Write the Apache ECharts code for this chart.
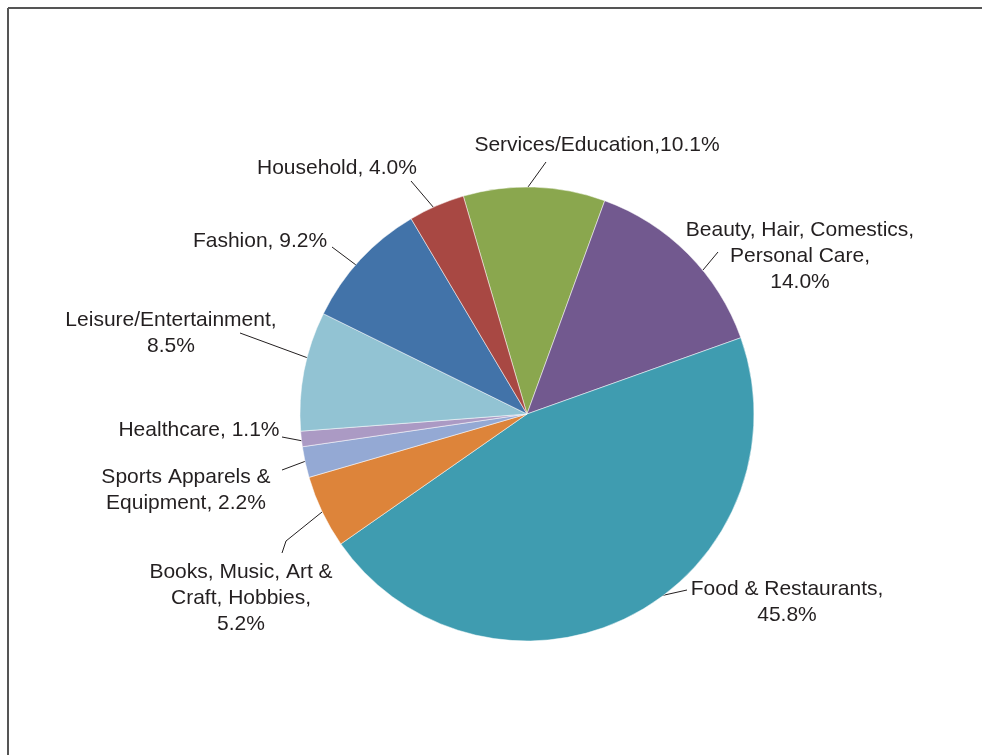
<!DOCTYPE html>
<html>
<head>
<meta charset="utf-8">
<script src="https://cdn.jsdelivr.net/npm/echarts@6/dist/echarts.min.js"></script>
<style>
  html, body { margin: 0; padding: 0; background: #fff; }
  #chart { width: 982px; height: 755px; }
</style>
</head>
<body>
<div id="chart"></div>
<script>
// Spending share by category (%), clockwise from the top
const categories = [
  'Services/Education',
  'Beauty, Hair, Comestics,\nPersonal Care',
  'Food & Restaurants',
  'Books, Music, Art &\nCraft, Hobbies',
  'Sports Apparels &\nEquipment',
  'Healthcare',
  'Leisure/Entertainment',
  'Fashion',
  'Household'
];
const shares = [10.1, 14.0, 45.8, 5.2, 2.2, 1.1, 8.5, 9.2, 4.0];
// text placed between the name and the percentage
const joiners = [',', ',\n', ',\n', ',\n', ', ', ', ', ',\n', ', ', ', '];

const colors = ['#8aa74e', '#72598f', '#3f9cb0', '#dd843a', '#94a9d4', '#ab9ac4', '#92c3d3', '#4273a9', '#a84843'];

// label centres and guide-line paths (pie edge -> label)
const labelPlacement = [
  { x: 597, y: 145, line: [[528, 187], [546, 162]] },
  { x: 800, y: 256, line: [[703, 270], [718, 252]] },
  { x: 787, y: 602, line: [[660, 596], [687, 590]] },
  { x: 241, y: 598, line: [[322, 512], [286, 541], [282, 553]] },
  { x: 186, y: 490, line: [[306, 461], [282, 470]] },
  { x: 199, y: 430, line: [[303, 441], [282, 437]] },
  { x: 171, y: 333, line: [[308, 358], [240, 333]] },
  { x: 260, y: 241, line: [[356, 265], [332, 247]] },
  { x: 337, y: 168, line: [[434, 208], [411, 181]] }
];

const chart = echarts.init(document.getElementById('chart'), null, { renderer: 'canvas' });

chart.setOption({
  backgroundColor: '#ffffff',
  animation: false,
  graphic: [
    { type: 'line', shape: { x1: 8, y1: 8, x2: 982, y2: 8 }, style: { stroke: '#555', lineWidth: 2 }, silent: true },
    { type: 'line', shape: { x1: 8, y1: 8, x2: 8, y2: 755 }, style: { stroke: '#555', lineWidth: 2 }, silent: true }
  ],
  series: [{
    type: 'pie',
    center: [527, 414],
    radius: [0, 227],
    startAngle: 106.3,
    clockwise: true,
    avoidLabelOverlap: false,
    itemStyle: { borderColor: '#ffffff', borderWidth: 0.5 },
    label: {
      show: true,
      position: 'outside',
      color: '#231f20',
      fontFamily: '"Liberation Sans", Arial, Helvetica, sans-serif',
      fontSize: 21,
      lineHeight: 26,
      align: 'center',
      formatter: (p) => p.name + joiners[p.dataIndex] + shares[p.dataIndex].toFixed(1) + '%'
    },
    labelLine: {
      show: true,
      length: 15,
      length2: 10,
      lineStyle: { color: '#231f20', width: 1 }
    },
    labelLayout: (params) => {
      const pl = labelPlacement[params.dataIndex];
      return {
        x: pl.x,
        y: pl.y,
        align: 'center',
        verticalAlign: 'middle',
        labelLinePoints: pl.line
      };
    },
    data: categories.map((name, i) => ({
      name: name,
      value: shares[i],
      itemStyle: { color: colors[i] }
    }))
  }]
});
</script>
</body>
</html>
